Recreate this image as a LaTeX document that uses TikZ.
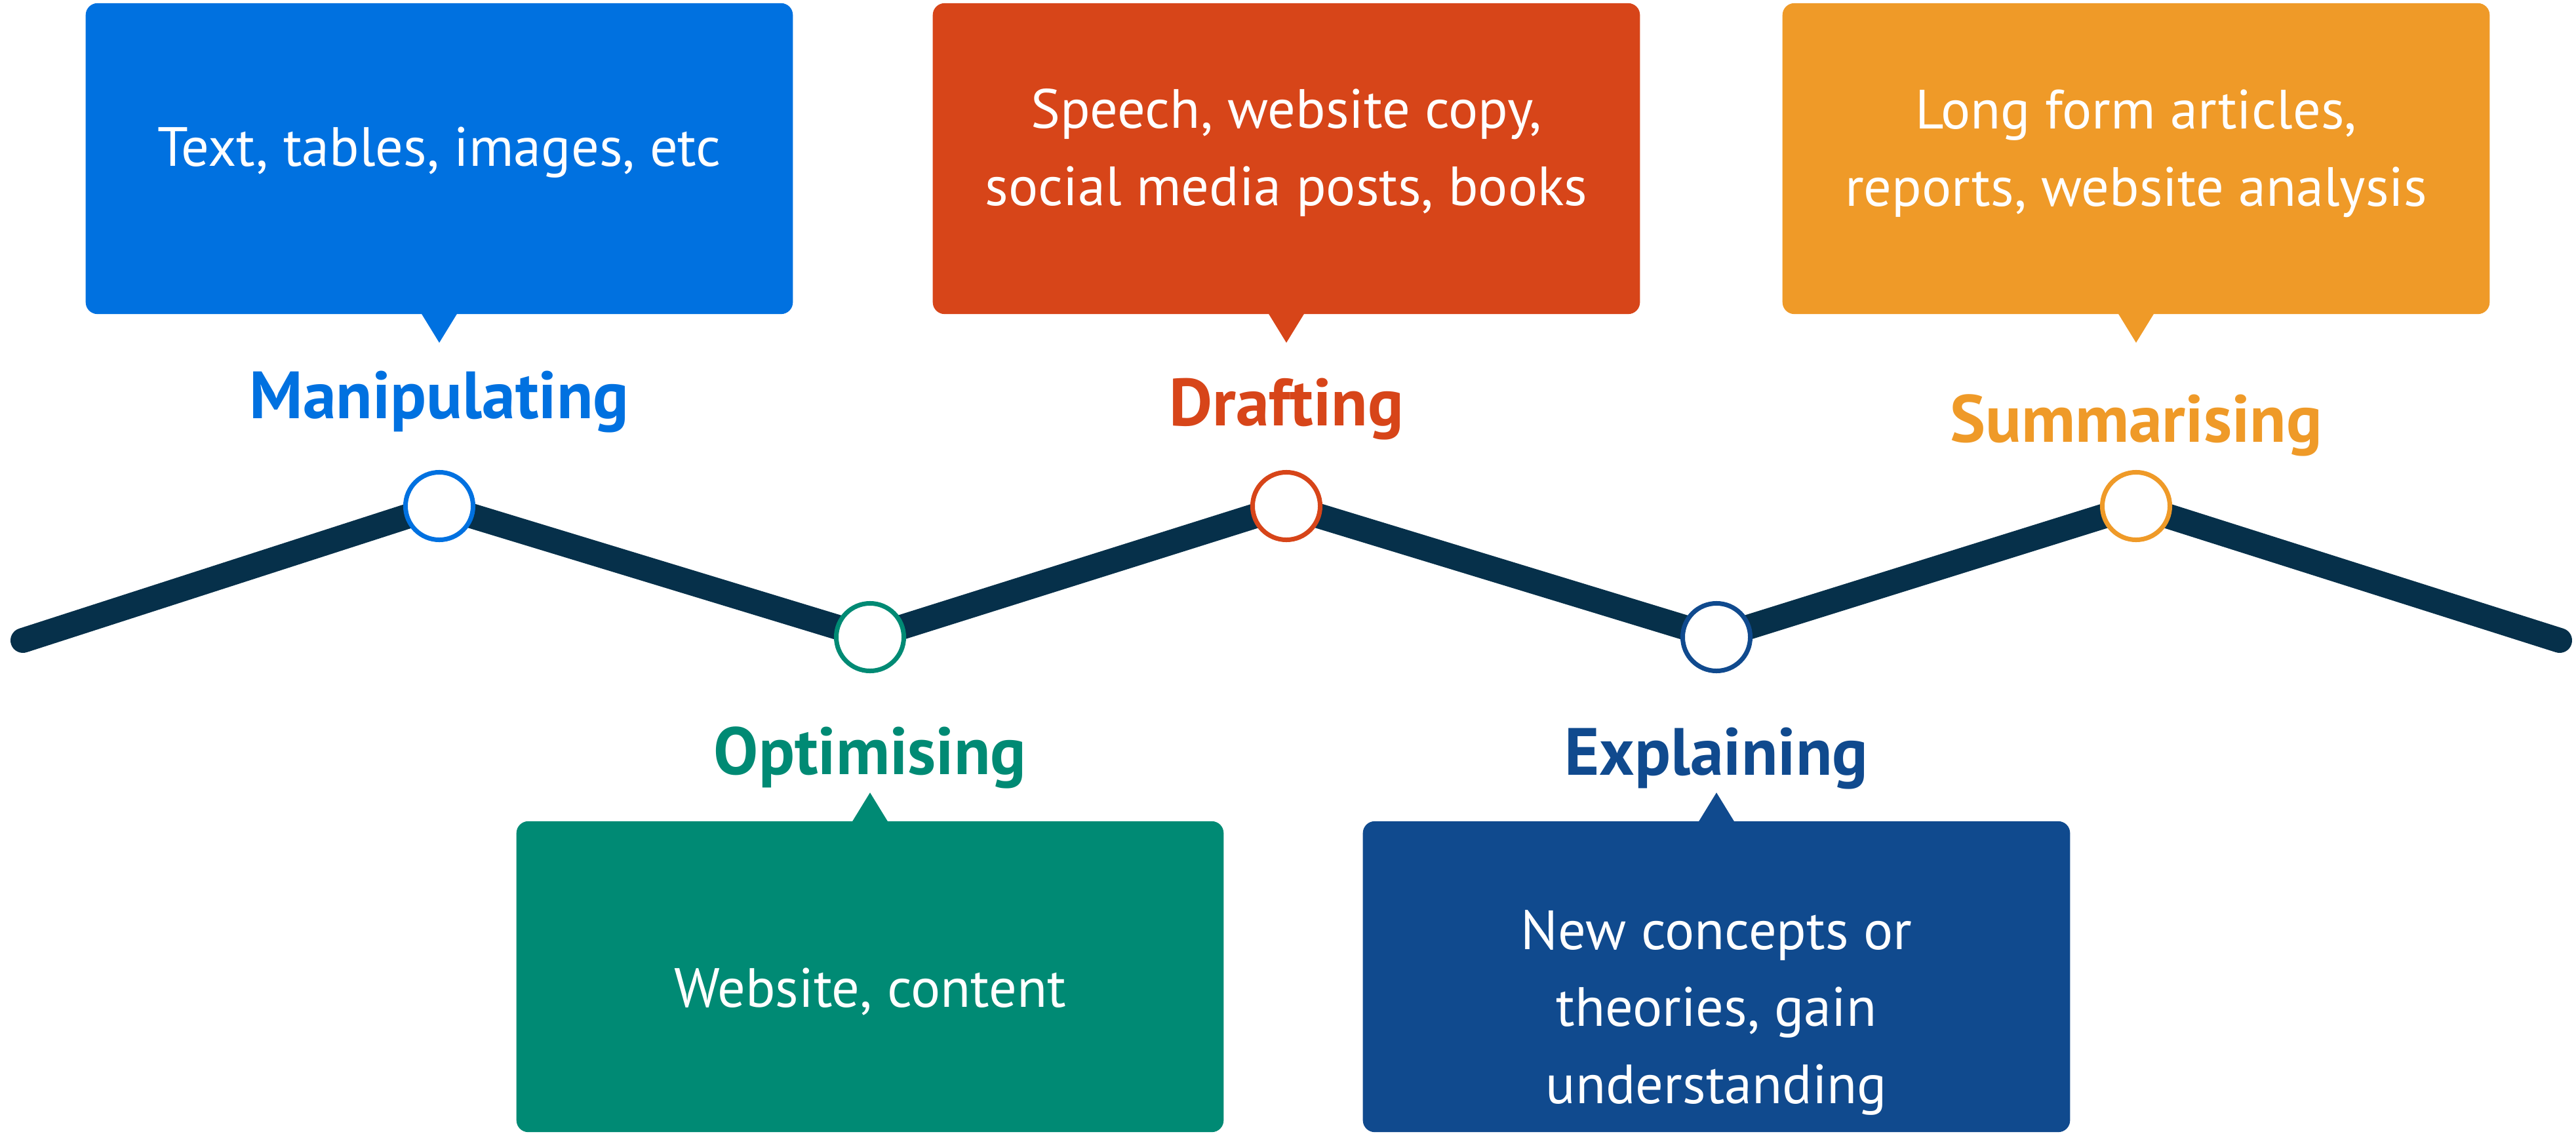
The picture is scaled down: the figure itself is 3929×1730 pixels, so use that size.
\documentclass[tikz,border=0pt]{standalone}
\usepackage{fontspec}
\setmainfont{PT Sans}
\usepackage{tikz}
\usetikzlibrary{backgrounds}

\definecolor{manipBlue}{HTML}{0071E0}
\definecolor{optimGreen}{HTML}{008A74}
\definecolor{draftRed}{HTML}{D74519}
\definecolor{explainNavy}{HTML}{104A8E}
\definecolor{summOrange}{HTML}{EF9A28}
\definecolor{trackNavy}{HTML}{06304A}

\tikzset{
  stagecard/.style={fill=#1, rounded corners=0.18cm, minimum width=10.78cm, minimum height=4.74cm, inner sep=0pt},
  stagedot/.style={circle, draw=#1, fill=white, line width=0.07cm, minimum size=1.03cm, inner sep=0pt},
  stagelabel/.style={text=#1, font=\fontsize{29}{33}\selectfont\bfseries, anchor=base, inner sep=0pt},
  cardtext/.style={text=white, font=\fontsize{24}{33.3}\selectfont, align=center, anchor=base, inner sep=0pt},
}

\begin{document}
\begin{tikzpicture}[x=0.01cm,y=0.01cm,yscale=-1,xscale=1]
\useasboundingbox (0,0) rectangle (3929,1730);

%Cards
\node [stagecard=manipBlue] (manip-card) at (670,242) {};
\node [stagecard=draftRed] (draft-card) at (1962,242) {};
\node [stagecard=summOrange] (summ-card) at (3258,242) {};
\node [stagecard=optimGreen] (optim-card) at (1327,1490) {};
\node [stagecard=explainNavy] (explain-card) at (2618,1490) {};

%Pointers
\fill [manipBlue] (manip-card.south) ++(-27,-1) -- ++(27,44) -- ++(27,-44) -- cycle;
\fill [draftRed] (draft-card.south) ++(-27,-1) -- ++(27,44) -- ++(27,-44) -- cycle;
\fill [summOrange] (summ-card.south) ++(-27,-1) -- ++(27,44) -- ++(27,-44) -- cycle;
\fill [optimGreen] (optim-card.north) ++(-27,1) -- ++(27,-44) -- ++(27,44) -- cycle;
\fill [explainNavy] (explain-card.north) ++(-27,1) -- ++(27,-44) -- ++(27,44) -- cycle;

%Track
\coordinate (track-start) at (35,977);
\coordinate (track-end) at (3904,977);
\node [stagedot=manipBlue] (manip-dot) at (670,772) {};
\node [stagedot=optimGreen] (optim-dot) at (1327,972) {};
\node [stagedot=draftRed] (draft-dot) at (1962,772) {};
\node [stagedot=explainNavy] (explain-dot) at (2618,972) {};
\node [stagedot=summOrange] (summ-dot) at (3258,772) {};
\begin{scope}[on background layer]
\draw [trackNavy, line width=0.38cm, line cap=round, line join=round] (track-start) -- (manip-dot.center) -- (optim-dot.center) -- (draft-dot.center) -- (explain-dot.center) -- (summ-dot.center) -- (track-end);
\end{scope}

% Text Node
\node [stagelabel=manipBlue] (manip-label) at (670,638) {Manipulating};
% Text Node
\node [stagelabel=draftRed] (draft-label) at (1962,649) {Drafting};
% Text Node
\node [stagelabel=summOrange] (summ-label) at (3258,674) {Summarising};
% Text Node
\node [stagelabel=optimGreen] (optim-label) at (1327,1181) {Optimising};
% Text Node
\node [stagelabel=explainNavy] (explain-label) at (2618,1182) {Explaining};

% Text Node
\node [cardtext] (manip-text) at (670,253) {Text, tables, images, etc};
% Text Node
\node [cardtext] (draft-text) at (1962,313) {Speech, website copy,\\social media posts, books};
% Text Node
\node [cardtext] (summ-text) at (3258,314) {Long form articles,\\reports, website analysis};
% Text Node
\node [cardtext] (optim-text) at (1327,1536) {Website, content};
% Text Node
\node [cardtext] (explain-text) at (2618,1683) {New concepts or\\theories, gain\\understanding};
\end{tikzpicture}
\end{document}
